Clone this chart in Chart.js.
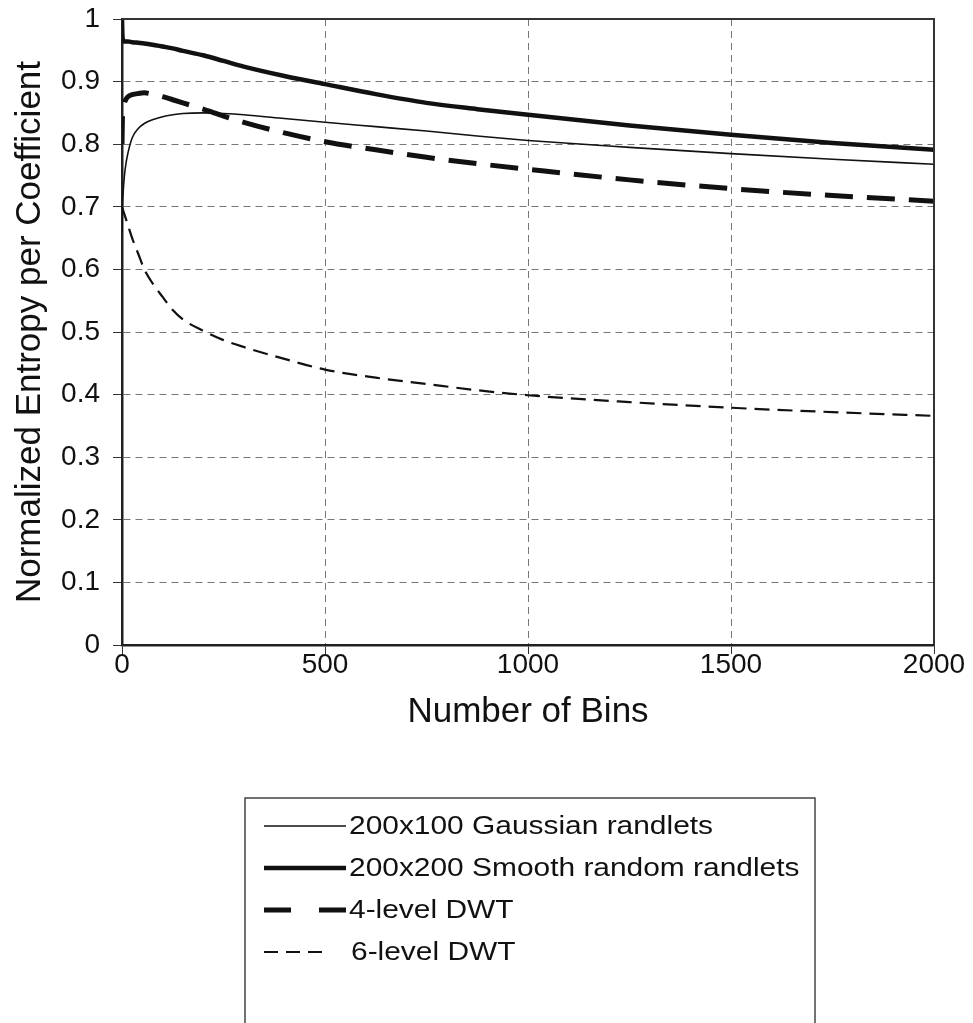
<!DOCTYPE html>
<html lang="en">
<head>
    <meta charset="UTF-8">
    <title>Normalized Entropy per Coefficient</title>
    <style>
        html, body { margin: 0; padding: 0; background: #fff; }
        canvas { display: block; }
    </style>
</head>
<body>
    <canvas id="myChart" width="973" height="1023"></canvas>

    <script src="https://cdn.jsdelivr.net/npm/chart.js"></script>
    <script>
        // number of bins (x) shared by all four curves
        const bins = [0, 1, 3, 6, 10, 15, 25, 40, 55, 75, 100, 125, 150, 200, 250, 300, 400, 500, 625, 750, 875, 1000, 1250, 1500, 1750, 2000];

        const gaussian100 = [0.66, 0.70, 0.725, 0.75, 0.77, 0.787, 0.81, 0.825, 0.833, 0.839, 0.844, 0.847, 0.849, 0.85, 0.849, 0.847, 0.841, 0.835, 0.828, 0.821, 0.813, 0.806, 0.795, 0.785, 0.776, 0.768];
        const smooth200 = [1.0, 0.975, 0.966, 0.964, 0.964, 0.964, 0.963, 0.962, 0.961, 0.959, 0.956, 0.953, 0.949, 0.942, 0.933, 0.924, 0.909, 0.896, 0.88, 0.866, 0.856, 0.847, 0.83, 0.815, 0.802, 0.791];
        const dwt4 = [0.80, 0.84, 0.855, 0.866, 0.872, 0.876, 0.879, 0.881, 0.882, 0.88, 0.876, 0.871, 0.866, 0.856, 0.845, 0.835, 0.818, 0.804, 0.791, 0.779, 0.769, 0.76, 0.743, 0.729, 0.718, 0.709];
        const dwt6 = [0.70, 0.698, 0.694, 0.688, 0.68, 0.67, 0.65, 0.625, 0.60, 0.578, 0.556, 0.535, 0.52, 0.502, 0.487, 0.476, 0.457, 0.44, 0.427, 0.417, 0.407, 0.399, 0.388, 0.379, 0.372, 0.366];

        const seriesLabels = ['200x100 Gaussian randlets', '200x200 Smooth random randlets', '4-level DWT', '6-level DWT'];

        const xTicks = [0, 500, 1000, 1500, 2000];
        const yTicks = [0, 0.1, 0.2, 0.3, 0.4, 0.5, 0.6, 0.7, 0.8, 0.9, 1];

        const FONT = '"Liberation Sans", Arial, sans-serif';

        function toPoints(values) {
            return values.map((v, i) => ({ x: bins[i], y: v }));
        }

        // frame around the plot area (top and right side)
        const frame = {
            id: 'frame',
            afterDraw(chart) {
                const { ctx, chartArea: a } = chart;
                ctx.save();
                ctx.strokeStyle = '#333';
                ctx.lineWidth = 2;
                ctx.beginPath();
                ctx.moveTo(a.left, a.top);
                ctx.lineTo(a.right, a.top);
                ctx.lineTo(a.right, a.bottom);
                ctx.stroke();
                ctx.restore();
            }
        };

        // boxed legend below the chart, one entry per row
        const legendDash = [[], [], [27, 28], [14, 8, 14, 8, 14, 40]];
        const boxLegend = {
            id: 'boxLegend',
            afterDraw(chart) {
                const ctx = chart.ctx;
                ctx.save();
                ctx.strokeStyle = '#444';
                ctx.lineWidth = 1.5;
                ctx.strokeRect(245, 798, 570, 240);
                ctx.font = '26px ' + FONT;
                ctx.fillStyle = '#111';
                ctx.textBaseline = 'middle';
                chart.data.datasets.forEach((ds, i) => {
                    const y = 826 + i * 42;
                    ctx.beginPath();
                    ctx.lineWidth = ds.borderWidth;
                    ctx.strokeStyle = ds.borderColor;
                    ctx.setLineDash(legendDash[i]);
                    ctx.moveTo(264, y);
                    ctx.lineTo(346, y);
                    ctx.stroke();
                    ctx.setLineDash([]);
                    ctx.save();
                    ctx.translate(i === 3 ? 351 : 349, y + 1);
                    ctx.scale(1.15, 1);
                    ctx.fillText(ds.label, 0, 0);
                    ctx.restore();
                });
                ctx.restore();
            }
        };

        const ctx = document.getElementById('myChart').getContext('2d');
        new Chart(ctx, {
            type: 'line',
            data: {
                datasets: [
                    {
                        label: seriesLabels[0],
                        data: toPoints(gaussian100),
                        borderColor: '#111',
                        borderWidth: 1.6
                    },
                    {
                        label: seriesLabels[1],
                        data: toPoints(smooth200),
                        borderColor: '#111',
                        borderWidth: 4.5
                    },
                    {
                        label: seriesLabels[2],
                        data: toPoints(dwt4),
                        borderColor: '#111',
                        borderWidth: 5,
                        borderDash: [28, 14]
                    },
                    {
                        label: seriesLabels[3],
                        data: toPoints(dwt6),
                        borderColor: '#111',
                        borderWidth: 2.2,
                        borderDash: [15, 8]
                    }
                ]
            },
            options: {
                responsive: false,
                animation: false,
                devicePixelRatio: 1,
                layout: { padding: { top: 19, right: 39, left: 0, bottom: 290 } },
                elements: {
                    point: { radius: 0 },
                    line: { cubicInterpolationMode: 'monotone', fill: false }
                },
                plugins: {
                    legend: { display: false },
                    tooltip: { enabled: false }
                },
                scales: {
                    x: {
                        type: 'linear',
                        min: 0,
                        max: 2000,
                        afterFit: (scale) => { scale.height = 88; },
                        afterBuildTicks: (scale) => { scale.ticks = xTicks.map(v => ({ value: v })); },
                        ticks: {
                            padding: -6,
                            color: '#111',
                            maxRotation: 0,
                            font: { family: FONT, size: 28 },
                            callback: (v) => String(v)
                        },
                        grid: {
                            color: '#777',
                            lineWidth: 1,
                            tickLength: 9,
                            tickColor: '#333'
                        },
                        border: { display: true, color: '#222', width: 2.5, dash: [7, 5] },
                        title: {
                            display: true,
                            text: 'Number of Bins',
                            color: '#111',
                            padding: { top: 0, bottom: 0 },
                            font: { family: FONT, size: 35 }
                        }
                    },
                    y: {
                        min: 0,
                        max: 1,
                        afterFit: (scale) => { scale.width = 122; },
                        afterBuildTicks: (scale) => { scale.ticks = yTicks.map(v => ({ value: v })); },
                        ticks: {
                            padding: 13,
                            color: '#111',
                            font: { family: FONT, size: 28, lineHeight: 0.3 },
                            callback: (v) => String(+v.toFixed(1))
                        },
                        grid: {
                            color: '#777',
                            lineWidth: 1,
                            tickLength: 9,
                            tickColor: '#333'
                        },
                        border: { display: true, color: '#222', width: 2.5, dash: [7, 5] },
                        title: {
                            display: true,
                            text: 'Normalized Entropy per Coefficient',
                            color: '#111',
                            padding: { top: 9, bottom: 0 },
                            font: { family: FONT, size: 35 }
                        }
                    }
                }
            },
            plugins: [frame, boxLegend]
        });
    </script>
</body>
</html>
